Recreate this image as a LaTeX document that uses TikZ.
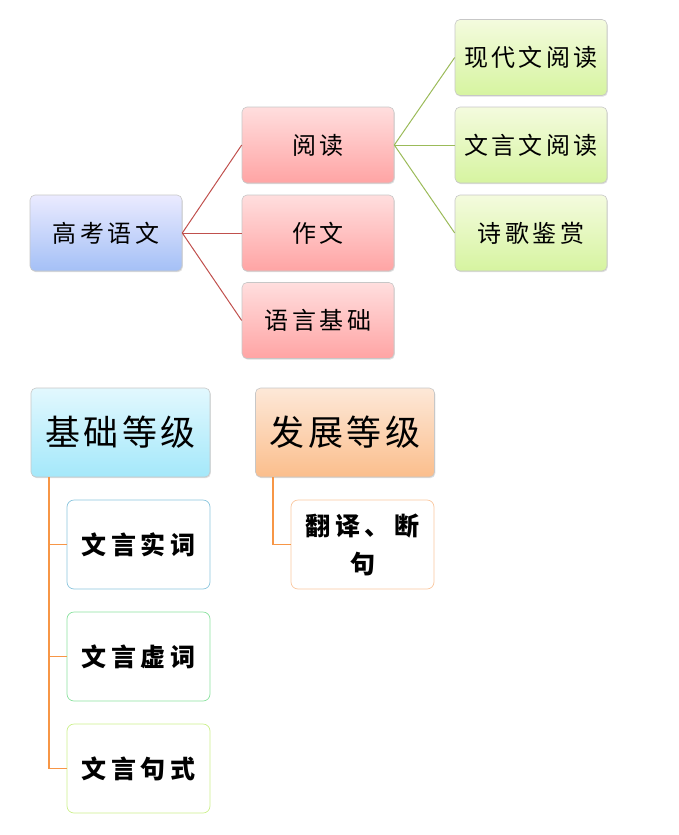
\documentclass[tikz,border=0pt]{standalone}
\usepackage{fontspec}
\newfontfamily\cjk[LetterSpace=14]{Noto Sans CJK SC}
\newfontfamily\cjkbig[LetterSpace=10]{Noto Sans CJK SC}
\newfontfamily\cjkleaf[LetterSpace=18]{Noto Sans CJK SC}
\usetikzlibrary{shadows}
\definecolor{redline}{HTML}{C0504D}
\definecolor{greenline}{HTML}{9BBB59}
\definecolor{orangeline}{HTML}{F79646}
\tikzset{
  box/.style={rounded corners=5pt, draw=black!22, line width=0.6pt, minimum width=152pt, minimum height=76pt, align=center, font=\cjk\fontsize{24}{28}\selectfont, drop shadow={shadow xshift=0.8pt, shadow yshift=-1.2pt, opacity=0.25}},
  bluebox/.style={box, top color=blue!8!white, bottom color={rgb,255:red,164;green,192;blue,246}},
  redbox/.style={box, top color={rgb,255:red,255;green,222;blue,222}, bottom color={rgb,255:red,255;green,164;blue,164}},
  greenbox/.style={box, top color={rgb,255:red,244;green,251;blue,222}, bottom color={rgb,255:red,214;green,244;blue,160}},
  bigbox/.style={box, minimum width=179pt, minimum height=89pt, font=\cjkbig\fontsize{35}{40}\selectfont},
  cyanbox/.style={bigbox, top color={rgb,255:red,226;green,248;blue,254}, bottom color={rgb,255:red,164;green,232;blue,250}},
  orangebox/.style={bigbox, top color={rgb,255:red,253;green,232;blue,216}, bottom color={rgb,255:red,251;green,190;blue,140}},
  leaf/.style={rounded corners=7pt, fill=white, line width=0.7pt, minimum width=143pt, minimum height=89pt, align=center, font=\cjkleaf\bfseries\fontsize{25}{38}\selectfont},
  redconn/.style={draw=redline, line width=1pt},
  greenconn/.style={draw=greenline, line width=1pt},
  orangeconn/.style={draw=orangeline, line width=1.4pt},
}
\begin{document}
\begin{tikzpicture}[x=1pt,y=-1pt]
\useasboundingbox (0,0) rectangle (679,835);
\node[bluebox] (gk) at (106,233) {高考语文};
\node[redbox] (yd) at (318,145) {阅读};
\node[redbox] (zw) at (318,233) {作文};
\node[redbox] (yy) at (318,320.5) {语言基础};
\node[greenbox] (xd) at (531,57.5) {现代文阅读};
\node[greenbox] (wy) at (531,145) {文言文阅读};
\node[greenbox] (sg) at (531,233) {诗歌鉴赏};
\draw[redconn] (gk.east) -- (yd.west);
\draw[redconn] (gk.east) -- (zw.west);
\draw[redconn] (gk.east) -- (yy.west);
\draw[greenconn] (yd.east) -- (xd.west);
\draw[greenconn] (yd.east) -- (wy.west);
\draw[greenconn] (yd.east) -- (sg.west);

\node[cyanbox] (jc) at (120.5,432.5) {基础等级};
\node[orangebox] (fz) at (345,432.5) {发展等级};
\node[leaf, draw={rgb,255:red,140;green,198;blue,222}] (sc) at (138.5,544.5) {文言实词};
\node[leaf, draw={rgb,255:red,140;green,226;blue,160}] (xc) at (138.5,656.5) {文言虚词};
\node[leaf, draw={rgb,255:red,204;green,240;blue,140}] (js) at (138.5,768.5) {文言句式};
\node[leaf, draw={rgb,255:red,250;green,200;blue,160}] (fy) at (362.5,544.5) {翻译、断\\句};
\coordinate (jcb) at ([xshift=-71.5pt]jc.south);
\coordinate (fzb) at ([xshift=-72pt]fz.south);
\draw[orangeconn] (jcb) |- (sc.west);
\draw[orangeconn] (jcb) |- (xc.west);
\draw[orangeconn] (jcb) |- (js.west);
\draw[orangeconn] (fzb) |- (fy.west);
\end{tikzpicture}
\end{document}
